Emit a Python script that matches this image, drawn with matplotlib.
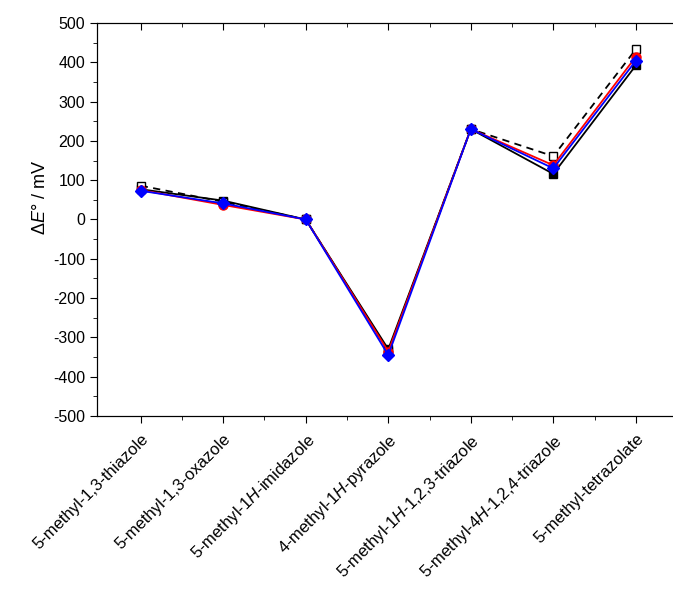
import matplotlib
matplotlib.use('Agg')
import matplotlib.pyplot as plt
from matplotlib.ticker import MultipleLocator

plt.rcParams['font.family'] = ['Liberation Sans', 'DejaVu Sans']
plt.rcParams['mathtext.fontset'] = 'custom'
plt.rcParams['mathtext.rm'] = 'Liberation Sans'
plt.rcParams['mathtext.it'] = 'Liberation Sans:italic'
plt.rcParams['axes.unicode_minus'] = False

labels = ['5-methyl-1,3-thiazole', '5-methyl-1,3-oxazole',
          r'5-methyl-1$\mathit{H}$-imidazole', r'4-methyl-1$\mathit{H}$-pyrazole',
          r'5-methyl-1$\mathit{H}$-1,2,3-triazole', r'5-methyl-4$\mathit{H}$-1,2,4-triazole',
          '5-methyl-tetrazolate']
x = [1, 2, 3, 4, 5, 6, 7]

black_filled = [77, 48, 0, -330, 230, 116, 392]
black_open = [86, 45, 0, -335, 230, 161, 433]
red = [75, 37, 0, -336, 230, 138, 414]
blue = [73, 41, 0, -345, 230, 130, 404]

fig = plt.figure(figsize=(6.73, 5.91), dpi=100)
ax = fig.add_axes([0.1441, 0.2961, 0.862, 0.665])

ax.plot(x, black_filled, '-', color='black', marker='s', ms=5.5, lw=1.3,
        mfc='black', mec='black')
ax.plot(x, black_open, '--', color='black', marker='s', ms=5.5, lw=1.3,
        mfc='white', mec='black', dashes=(4, 3))
ax.plot(x, red, '-', color='red', marker='o', ms=6.5, lw=1.3,
        mfc='red', mec='red')
ax.plot(x, blue, '-', color='blue', marker='D', ms=6, lw=1.3,
        mfc='blue', mec='blue')

ax.set_xlim(0.47, 7.5)
ax.set_ylim(-500, 500)
ax.yaxis.set_major_locator(MultipleLocator(100))
ax.yaxis.set_minor_locator(MultipleLocator(50))
ax.set_xticks(x)
ax.set_xticks([1.5, 2.5, 3.5, 4.5, 5.5, 6.5], minor=True)
ax.set_xticklabels(labels, rotation=45, ha='right', rotation_mode='anchor',
                   fontsize=12)
ax.tick_params(axis='y', which='major', direction='out', length=5, labelsize=11.5)
ax.tick_params(axis='y', which='minor', direction='out', length=3)
ax.tick_params(axis='x', which='major', direction='out', length=5, pad=6)
ax.tick_params(axis='x', which='minor', direction='out', length=3)
ax.spines['right'].set_visible(False)

# top axis ticks point inward
top = ax.twiny()
top.set_xlim(ax.get_xlim())
top.set_xticks(x)
top.set_xticks([1.5, 2.5, 3.5, 4.5, 5.5, 6.5], minor=True)
top.tick_params(axis='x', which='major', direction='in', length=5, labeltop=False)
top.tick_params(axis='x', which='minor', direction='in', length=3)
top.spines['right'].set_visible(False)

ax.set_ylabel(r'$\Delta\mathit{E}$° / mV', fontsize=13)
ax.yaxis.set_label_coords(-0.082, 0.557)

fig.savefig('out.png', dpi=100)
